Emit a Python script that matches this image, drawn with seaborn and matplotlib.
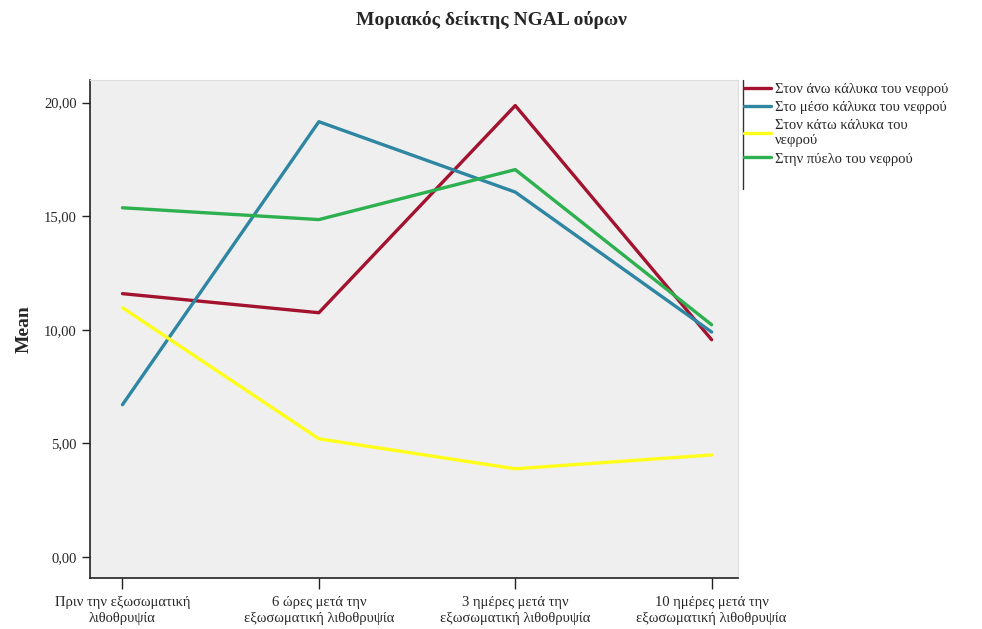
import pandas as pd
import matplotlib.pyplot as plt
import matplotlib.ticker as mticker
import seaborn as sns

# time points (x categories)
timepoints = ['Πριν την εξωσωματική\nλιθοθρυψία',
              '6 ώρες μετά την\nεξωσωματική λιθοθρυψία',
              '3 ημέρες μετά την\nεξωσωματική λιθοθρυψία',
              '10 ημέρες μετά την\nεξωσωματική λιθοθρυψία']

# series (mean NGAL index)
upper = [11.59, 10.75, 19.87, 9.56]
middle = [6.70, 19.16, 16.06, 9.90]
lower = [10.97, 5.20, 3.88, 4.49]
pelvis = [15.37, 14.85, 17.05, 10.22]

series_names = ['Στον άνω κάλυκα του νεφρού',
                'Στο μέσο κάλυκα του νεφρού',
                'Στον κάτω κάλυκα του\nνεφρού',
                'Στην πύελο του νεφρού']
colors = ['#A3122F', '#2F86A3', '#FFFF1A', '#2DB04F']

rows = []
for name, vals in zip(series_names, [upper, middle, lower, pelvis]):
    for i, v in enumerate(vals):
        rows.append({'idx': i, 'mean': v, 'series': name})
df = pd.DataFrame(rows)

sns.set_style('white')
plt.rcParams['font.family'] = ['Liberation Serif', 'DejaVu Serif']

fig = plt.figure(figsize=(9.82, 6.29), dpi=100)
ax = fig.add_axes([0.0917, 0.081, 0.66, 0.792])
ax.set_facecolor('#EFEFEF')

sns.lineplot(data=df, x='idx', y='mean', hue='series', hue_order=series_names,
             palette=dict(zip(series_names, colors)), linewidth=2.4, ax=ax)

ax.set_xlim(-0.165, 3.135)
ax.set_ylim(-0.93, 21.0)
ax.set_xticks(range(len(timepoints)))
ax.set_xticklabels(timepoints, fontsize=10.5, linespacing=1.25)
ax.set_yticks([0, 5, 10, 15, 20])
ax.yaxis.set_major_formatter(mticker.FuncFormatter(lambda v, p: f'{v:.2f}'.replace('.', ',')))
ax.tick_params(axis='y', labelsize=10.5, length=6, width=1, direction='out', left=True, color='#222222')
ax.tick_params(axis='x', length=8, width=1, pad=5, direction='out', bottom=True, color='#222222')
ax.set_xlabel('')
ax.set_ylabel('Mean', fontsize=14, fontweight='bold', labelpad=8)

for s in ['left', 'bottom']:
    ax.spines[s].set_color('#222222')
    ax.spines[s].set_linewidth(1.2)
for s in ['top', 'right']:
    ax.spines[s].set_color('#DDDDDD')
    ax.spines[s].set_linewidth(0.8)

handles, labels = ax.get_legend_handles_labels()
ax.get_legend().remove()
fig.legend(handles, labels, loc='upper left', bbox_to_anchor=(0.752, 0.878),
           frameon=False, fontsize=10.5, handlelength=1.8, handletextpad=0.3,
           labelspacing=0.35, borderaxespad=0)
fig.add_artist(plt.Line2D([0.7565, 0.7565], [0.70, 0.873], color='#333333', lw=1))

fig.suptitle('Μοριακός δείκτης NGAL ούρων', fontsize=14, fontweight='bold', y=0.982)

fig.savefig('out.png', dpi=100)
